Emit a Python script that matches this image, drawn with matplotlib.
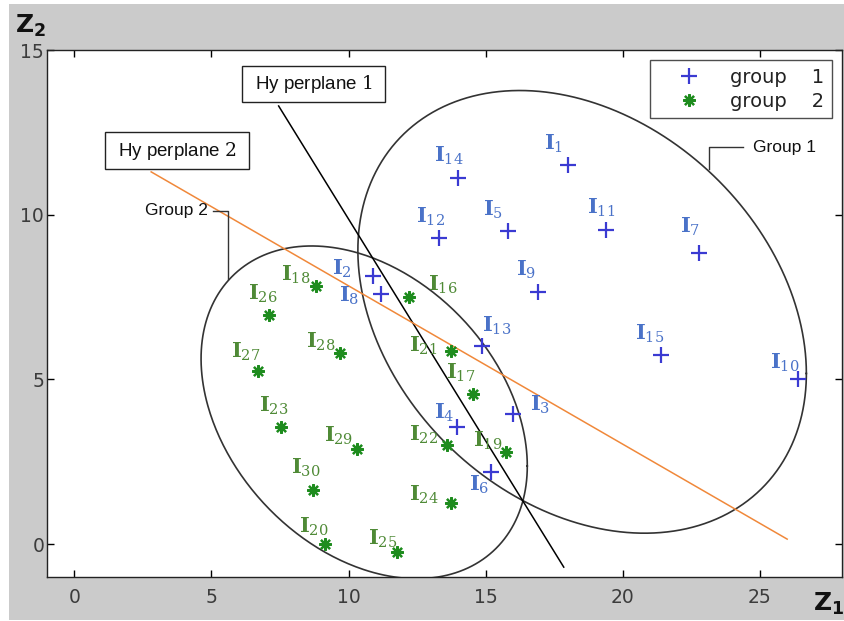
import numpy as np
import matplotlib
matplotlib.use("Agg")
import matplotlib.pyplot as plt
from matplotlib.patches import Rectangle

plt.rcParams['mathtext.fontset'] = 'dejavuserif'

# ---------------- data ----------------
g1_ids = [1, 14, 12, 5, 11, 7, 9, 2, 8, 13, 15, 10, 3, 4, 6]
g1_x = [18.0, 14.0, 13.3, 15.8, 19.4, 22.8, 16.9, 10.9, 11.2, 14.85, 21.4, 26.4, 16.0, 13.95, 15.2]
g1_y = [11.5, 11.1, 9.3, 9.5, 9.55, 8.85, 7.65, 8.15, 7.6, 6.0, 5.75, 5.0, 3.95, 3.55, 2.2]

g2_ids = [18, 16, 26, 28, 21, 27, 17, 23, 29, 22, 19, 30, 24, 20, 25]
g2_x = [8.8, 12.2, 7.1, 9.7, 13.75, 6.7, 14.55, 7.55, 10.3, 13.6, 15.75, 8.7, 13.75, 9.15, 11.75]
g2_y = [7.85, 7.5, 6.95, 5.8, 5.85, 5.25, 4.55, 3.55, 2.9, 3.0, 2.8, 1.65, 1.25, 0.0, -0.25]

hp1_x = [7.45, 17.85]
hp1_y = [13.3, -0.7]
hp2_x = [2.8, 26.0]
hp2_y = [11.3, 0.15]

x_ticks = [0, 5, 10, 15, 20, 25]
y_ticks = [0, 5, 10, 15]

legend_labels = ['group    1', 'group    2']

# label offsets (pixels, image convention: +x right, +y down) of the "I" glyph centre
g1_off = [(-19, -24), (-19, -25), (-18, -23), (-20, -23), (-14, -24), (-14, -28), (-17, -24),
          (-36, -9), (-37, 0), (5, -23), (-21, -23), (-23, -19), (22, -11), (-18, -16), (-17, 11)]
g2_off = [(-30, -13), (24, -14), (-16, -23), (-29, -13), (-37, -8), (-22, -21), (-22, -23),
          (-17, -23), (-28, -15), (-33, -13), (-28, -13), (-17, -24), (-37, -10), (-21, -19), (-24, -16)]

# ellipse parameters: centre, half extents, coupling
ell1 = dict(cx=18.52, cy=7.05, w=8.18, h=6.72, c=-15.3)
ell2 = dict(cx=10.57, cy=4.0, w=5.95, h=5.05, c=-9.7)

c_blue = '#3a3ad2'
c_blue_lbl = '#4a72c8'
c_green = '#1e8c1e'
c_green_lbl = '#4f8a36'
c_orange = '#f0883a'

# ---------------- figure ----------------
W, H = 844, 621
fig = plt.figure(figsize=(W / 100, H / 100), dpi=100, facecolor='white')
fig.patches.append(Rectangle((9 / W, 1 / H), 1, 616 / H, transform=fig.transFigure,
                             facecolor='#cbcbcb', edgecolor='none', zorder=-10))
ax = fig.add_axes([47 / W, (H - 577) / H, (842 - 47) / W, (577 - 50) / H])
ax.set_xlim(-1, 28)
ax.set_ylim(-1, 15)
ax.set_xticks(x_ticks)
ax.set_yticks(y_ticks)
ax.tick_params(direction='in', length=5, width=1, top=True, right=True,
               labelsize=13.5, labelcolor='#3c3c3c')
ax.tick_params(axis='x', pad=8)
ax.tick_params(axis='y', pad=2)
for lab in ax.get_xticklabels() + ax.get_yticklabels():
    lab.set_fontfamily('DejaVu Sans')
for s in ax.spines.values():
    s.set_linewidth(1.0)
    s.set_color('#222222')


def ellipse_pts(cx, cy, w, h, c):
    S = np.array([[w * w, c], [c, h * h]])
    L = np.linalg.cholesky(S)
    t = np.linspace(0, 2 * np.pi, 400)
    p = L @ np.vstack([np.cos(t), np.sin(t)])
    return cx + p[0], cy + p[1]


for e in (ell1, ell2):
    ex, ey = ellipse_pts(**e)
    ax.plot(ex, ey, color='#333333', lw=1.2, zorder=2)

ax.plot(hp1_x, hp1_y, color='black', lw=1.1, zorder=3)
ax.plot(hp2_x, hp2_y, color=c_orange, lw=1.1, zorder=3)

ax.plot(g1_x, g1_y, linestyle='none', marker='+', ms=11, mew=1.6, color=c_blue, zorder=5,
        label=legend_labels[0])
ax.plot(g2_x, g2_y, linestyle='none', marker=(8, 2, 0), ms=9, mew=1.6, color=c_green, zorder=5,
        label=legend_labels[1])

for ids, xs, ys, offs, col in ((g1_ids, g1_x, g1_y, g1_off, c_blue_lbl),
                               (g2_ids, g2_x, g2_y, g2_off, c_green_lbl)):
    for i, x, y, (dx, dy) in zip(ids, xs, ys, offs):
        ax.annotate(r'$\mathbf{I}_{%d}$' % i, (x, y), xytext=(dx - 5, -(dy + 8)),
                    textcoords='offset pixels', ha='left', va='baseline',
                    fontsize=15, color=col, zorder=6)

# hyperplane label boxes
for (x0, x1, y0, y1, txt) in ((6.11, 11.33, 13.41, 14.51, r'Hy perplane $\mathrm{1}$'),
                              (1.13, 6.37, 11.39, 12.5, r'Hy perplane $\mathrm{2}$')):
    ax.add_patch(Rectangle((x0, y0), x1 - x0, y1 - y0, facecolor='white',
                           edgecolor='#222222', lw=1.0, zorder=7))
    ax.text((x0 + x1) / 2, (y0 + y1) / 2, txt, ha='center', va='center', fontsize=13.5,
            family='Liberation Sans', color='#111111', zorder=8)

# group labels with leader lines
ax.plot([23.16, 23.16, 24.4], [11.4, 12.05, 12.05], color='#333333', lw=1.0, zorder=4)
ax.text(24.75, 12.05, 'Group 1', ha='left', va='center', fontsize=12.5,
        family='Liberation Sans', color='#111111')
ax.plot([5.04, 5.62, 5.62], [10.12, 10.12, 8.05], color='#333333', lw=1.0, zorder=4)
ax.text(4.86, 10.12, 'Group 2', ha='right', va='center', fontsize=12.5,
        family='Liberation Sans', color='#111111')

leg = ax.legend(loc='upper right', bbox_to_anchor=(1 - 10 / 795, 1 - 10 / 527),
                fontsize=14, frameon=True, fancybox=False, edgecolor='#222222',
                borderpad=0.4, handlelength=3.2, handletextpad=0.5, labelspacing=0.25,
                borderaxespad=0)
leg.get_frame().set_linewidth(1.0)
for t in leg.get_texts():
    t.set_fontfamily('DejaVu Sans')
    t.set_color('#222222')

# axis labels
fig.text(15 / W, 1 - 33 / H, r'$\mathbf{Z}_\mathbf{2}$', fontsize=18, ha='left', va='baseline',
         math_fontfamily='dejavusans', color='#111111')
fig.text(813 / W, 1 - 611 / H, r'$\mathbf{Z}_\mathbf{1}$', fontsize=18, ha='left', va='baseline',
         math_fontfamily='dejavusans', color='#111111')

fig.savefig('out.png', dpi=100, facecolor=fig.get_facecolor())
